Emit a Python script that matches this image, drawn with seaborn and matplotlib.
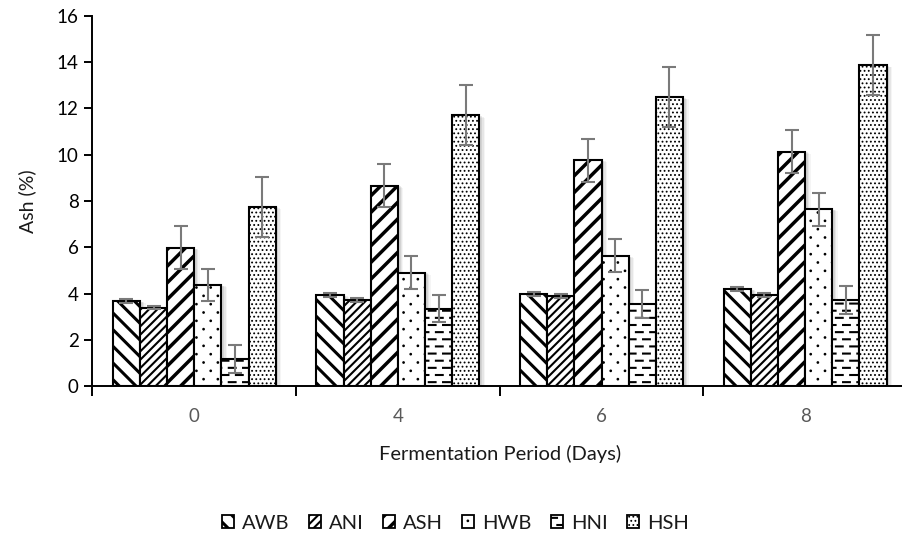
import numpy as np
import pandas as pd
import matplotlib
matplotlib.use("Agg")
import matplotlib as mpl
import matplotlib.pyplot as plt
import matplotlib.hatch as mhatch
import matplotlib.patheffects as pe
from matplotlib.path import Path
import seaborn as sns

# ---- data -------------------------------------------------------------
days = ["0", "4", "6", "8"]
samples = ["AWB", "ANI", "ASH", "HWB", "HNI", "HSH"]

awb = [3.68, 3.94, 3.98, 4.19]
ani = [3.39, 3.72, 3.88, 3.95]
ash = [5.97, 8.66, 9.77, 10.13]
hwb = [4.37, 4.90, 5.63, 7.65]
hni = [1.18, 3.35, 3.56, 3.72]
hsh = [7.75, 11.70, 12.48, 13.87]

awb_err = [0.08, 0.08, 0.08, 0.08]
ani_err = [0.08, 0.08, 0.08, 0.08]
ash_err = [0.93, 0.93, 0.93, 0.93]
hwb_err = [0.71, 0.71, 0.71, 0.71]
hni_err = [0.60, 0.60, 0.60, 0.60]
hsh_err = [1.30, 1.30, 1.30, 1.30]

values = [awb, ani, ash, hwb, hni, hsh]
errors = [awb_err, ani_err, ash_err, hwb_err, hni_err, hsh_err]

df = pd.DataFrame({
    "day": np.repeat([days], len(samples), axis=0).ravel(),
    "sample": np.repeat(samples, len(days)),
    "ash": np.concatenate(values),
})


# ---- custom hatch marks: staggered short dashes ('-') and sparse dots ('o')
class StaggeredMarks(mhatch.HatchPatternBase):
    def __init__(self, hatch, density):
        verts, codes = [], []
        n_dash = hatch.count("-")
        if n_dash:
            rows, per_row, length = 14 * n_dash, 7, 0.068
            for r in range(rows):
                y = (r + 0.5) / rows
                shift = 0.0 if r % 2 == 0 else 0.5 / per_row
                for k in range(per_row):
                    x0 = k / per_row + shift + 0.002
                    verts += [(x0, y), (x0 + length, y)]
                    codes += [Path.MOVETO, Path.LINETO]
        n_dot = hatch.count("o")
        if n_dot:
            circ = Path.unit_circle()
            rows, per_row, rad = 12 * n_dot, 7, 0.0065
            for r in range(rows):
                y = (r + 0.5) / rows
                shift = 0.25 if r % 2 == 0 else 0.75
                for k in range(per_row):
                    x = (k + shift) / per_row
                    verts += list(circ.vertices * rad + (x, y))
                    codes += list(circ.codes)
        self._verts = np.array(verts, dtype=float).reshape(-1, 2)
        self._codes = np.array(codes, dtype=Path.code_type)
        self.num_vertices = len(self._verts)

    def set_vertices_and_codes(self, vertices, codes):
        vertices[:] = self._verts
        codes[:] = self._codes


mhatch._hatch_types[:] = [t for t in mhatch._hatch_types
                          if t not in (mhatch.HorizontalHatch, mhatch.SmallCircles)]
mhatch._hatch_types.append(StaggeredMarks)

hatches = ["\\\\", "////", "//", "o", "-", "...."]
hatch_widths = [2.2, 1.5, 2.5, 1.0, 1.5, 0.8]


def apply_hatch_width(patch, lw):
    if hasattr(patch, "set_hatch_linewidth"):
        patch.set_hatch_linewidth(lw)
    else:
        orig_draw = patch.draw

        def draw(renderer, _orig=orig_draw, _lw=lw):
            with mpl.rc_context({"hatch.linewidth": _lw}):
                _orig(renderer)
        patch.draw = draw


class PlainShadow(pe.AbstractPathEffect):
    """Flat translucent copy of the patch outline, without hatch or edge."""

    def __init__(self, offset=(2, -2), alpha=0.1):
        super().__init__(offset)
        self._alpha = alpha

    def draw_path(self, renderer, gc, tpath, affine, rgbFace=None):
        gc0 = renderer.new_gc()
        gc0.copy_properties(gc)
        gc0.set_hatch(None)
        gc0.set_linewidth(0)
        gc0.set_foreground((0, 0, 0, 0))
        gc0.set_alpha(self._alpha)
        renderer.draw_path(gc0, tpath, affine + self._offset_transform(renderer),
                           (0, 0, 0))
        gc0.restore()


# soft grey drop shadow behind each bar
bar_shadow = [
    PlainShadow(offset=(4.0, -1.5), alpha=0.04),
    PlainShadow(offset=(3.0, -1.0), alpha=0.06),
    PlainShadow(offset=(2.0, -0.5), alpha=0.08),
    pe.Normal(),
]

# ---- figure -----------------------------------------------------------
sns.set_theme(style="white")
plt.rcParams["font.family"] = ["Lato", "DejaVu Sans"]
plt.rcParams["hatch.color"] = "black"

fig = plt.figure(figsize=(9.02, 5.35), dpi=100)
ax = fig.add_axes([0.1025, 0.2785, 0.903, 0.6916])

sns.barplot(data=df, x="day", y="ash", hue="sample", order=days,
            hue_order=samples, palette=["white"] * len(samples),
            saturation=1, edgecolor="black", linewidth=1.5, width=0.8,
            errorbar=None, legend=False, ax=ax)

for cont, h, hlw, vals, errs in zip(ax.containers, hatches, hatch_widths,
                                    values, errors):
    xs = []
    for p in cont:
        p.set_hatch(h)
        apply_hatch_width(p, hlw)
        p.set_path_effects(bar_shadow)
        xs.append(p.get_x() + p.get_width() / 2)
    ax.errorbar(xs, vals, yerr=errs, fmt="none", ecolor="#7a7a7a",
                elinewidth=1.5, capsize=5, capthick=1.5, zorder=5)

ax.set_ylim(0, 16)
ax.set_xlim(-0.5, 3.5)
ax.set_yticks(np.arange(0, 17, 2))
ax.set_xticks(range(len(days)))
ax.set_xticklabels(days)
ax.set_xticks(np.arange(-0.5, len(days), 1.0), minor=True)

for side in ("top", "right"):
    ax.spines[side].set_visible(False)
for side in ("left", "bottom"):
    ax.spines[side].set_color("black")
    ax.spines[side].set_linewidth(1.4)
    ax.spines[side].set_zorder(6)

ax.tick_params(axis="y", which="major", direction="out", length=6, width=1.4,
               color="black", labelsize=13.5, labelcolor="black", pad=4, left=True)
ax.tick_params(axis="x", which="major", length=0, labelsize=13.5,
               labelcolor="#595959", pad=16)
ax.tick_params(axis="x", which="minor", direction="out", length=7, width=1.4,
               color="black", bottom=True)

ax.set_xlabel("Fermentation Period (Days)", fontsize=14.5, color="#1a1a1a",
              labelpad=14)
ax.set_ylabel("Ash (%)", fontsize=14, color="#1a1a1a", labelpad=15)

leg = fig.legend(ax.containers, samples, loc="center",
                 bbox_to_anchor=(0.505, 0.022), ncol=6, frameon=False,
                 fontsize=14.5, handlelength=0.6, handleheight=0.6,
                 handletextpad=0.4, columnspacing=0.95)
for p, h, hlw in zip(leg.get_patches(), hatches, hatch_widths):
    p.set_path_effects([])
    p.set_linewidth(1.3)
    p.set_hatch(h)
    apply_hatch_width(p, hlw)
for t in leg.get_texts():
    t.set_color("#1a1a1a")

fig.savefig("out.png", dpi=100)
